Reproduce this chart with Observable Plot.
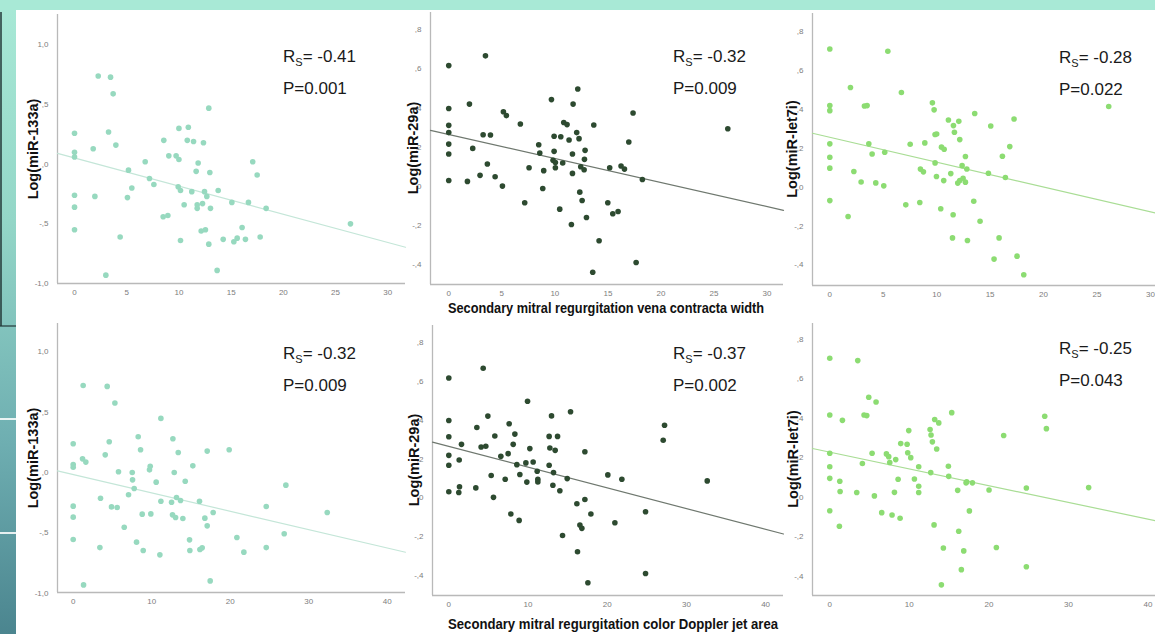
<!DOCTYPE html>
<html>
<head>
<meta charset="utf-8">
<script src="https://cdn.jsdelivr.net/npm/d3@7"></script>
<script src="https://cdn.jsdelivr.net/npm/@observablehq/plot@0.6"></script>
<style>
html,body{margin:0;padding:0;background:#fff;}
#wrap{position:relative;width:1155px;height:634px;overflow:hidden;
  background:linear-gradient(180deg,#a8e9d6 0%,#93d6c7 35%,#6eaeb1 70%,#4b858f 100%);
  font-family:"Liberation Sans",Arial,sans-serif;}
#topband{position:absolute;left:0;top:0;width:1155px;height:10px;background:#a8e9d6;}
#paper{position:absolute;left:16px;top:10px;width:1139px;height:624px;background:#fff;}
.deco{position:absolute;}
.chart{position:absolute;overflow:visible;max-width:none;}
.ylab{position:absolute;font-weight:bold;font-size:14.5px;color:#111;white-space:nowrap;line-height:6px;background:#fff;
  transform:translate(-50%,-50%) rotate(-90deg);}
.xlab{position:absolute;font-weight:bold;font-size:14px;color:#111;white-space:nowrap;line-height:14px;transform-origin:0 0;}
.stat{position:absolute;font-size:17px;color:#1a1a1a;white-space:nowrap;line-height:17px;}
.stat .sub{font-size:11px;position:relative;top:4px;}
</style>
</head>
<body>
<div id="wrap">
  <div id="topband"></div>
  <div id="paper"></div>
</div>
<script>
// ---------------- data ----------------
// Vena contracta width (top row)
const vc133X = [2.27,3.45,3.70,0,0,0,1.79,3.26,3.96,0,0,0,1.95,3.0,4.37,5.17,5.49,5.07,6.77,7.18,7.6,8.55,9.03,9.73,10.0,10.0,10.9,10.8,11.4,12.35,12.86,11.84,11.65,12.96,9.93,10.15,11.23,12.45,12.67,13.76,8.49,8.94,10.5,11.75,11.75,12.26,13.02,10.15,12.13,12.54,12.86,13.66,14.24,15.07,15.26,15.58,16.05,16.37,16.66,17.07,17.49,17.78,18.35,26.43];
const vc133Y = [0.74,0.73,0.59,0.26,0.10,0.06,0.13,0.27,0.16,-0.26,-0.36,-0.55,-0.27,-0.93,-0.61,-0.05,-0.20,-0.28,0.02,-0.12,-0.17,0.20,0.07,0.07,0.04,0.30,0.31,0.20,0.19,0.18,0.47,0.01,-0.06,-0.07,-0.19,-0.22,-0.23,-0.23,-0.27,-0.22,-0.44,-0.43,-0.34,-0.34,-0.37,-0.33,-0.37,-0.64,-0.56,-0.55,-0.67,-0.89,-0.63,-0.32,-0.65,-0.62,-0.53,-0.63,-0.32,0.02,-0.09,-0.61,-0.37,-0.50];

const vc29X = [0,3.46,0,0,0,0,0,0,1.76,1.95,2.26,2.95,3.24,3.93,3.64,4.37,5.15,5.43,5.06,6.75,7.16,7.57,8.48,8.58,8.95,8.86,9.68,9.93,9.93,9.83,10.05,10.05,10.56,10.74,10.84,11.15,11.34,11.72,11.66,11.66,10.46,11.56,12.16,12.06,12.28,12.44,12.35,12.57,12.79,12.85,12.76,12.98,13.67,14.17,13.57,14.99,15.17,15.46,15.96,16.24,16.56,16.97,17.37,17.66,18.25,26.3];
const vc29Y = [0.617,0.667,0.397,0.311,0.274,0.215,0.164,0.029,0.024,0.42,0.193,0.055,0.263,0.262,0.113,0.048,0.381,0.361,0.0,0.318,-0.085,0.094,0.212,0.169,0.079,-0.012,0.443,0.255,0.178,0.132,0.121,0.094,0.253,0.118,0.326,0.315,0.236,0.42,0.164,0.065,-0.118,-0.197,0.497,0.274,0.243,0.099,-0.031,-0.074,0.137,0.183,0.084,-0.161,0.313,-0.28,-0.441,-0.085,0.094,-0.142,-0.13,0.103,0.087,0.226,0.374,-0.391,0.034,0.294];

const vcLetX = [0,5.43,0,0,0,0,0,0,1.93,1.71,2.25,2.93,3.24,3.49,3.65,3.96,4.3,5.05,5.14,6.7,7.11,7.52,8.42,8.48,8.76,8.89,9.6,9.76,9.85,10.0,9.85,9.98,10.38,10.45,10.7,10.66,11.1,11.32,11.57,11.66,11.54,11.48,12.07,12.16,11.97,12.16,12.38,12.47,12.69,12.69,12.82,12.88,13.56,13.47,14.06,14.84,15.06,15.37,15.84,16.15,16.43,16.84,17.24,17.52,18.15,26.1];
const vcLetY = [0.711,0.70,0.42,0.394,0.223,0.154,0.098,-0.069,0.513,-0.151,0.081,0.027,0.418,0.42,0.223,0.171,0.022,0.007,0.18,0.487,-0.091,0.221,-0.079,0.093,0.079,0.228,0.434,0.398,0.271,0.274,0.125,0.055,-0.111,0.206,0.195,0.034,0.346,0.07,0.317,0.283,-0.142,-0.261,0.339,0.245,0.021,0.034,0.111,0.046,0.026,0.158,0.094,-0.274,0.379,-0.072,-0.175,0.072,0.315,-0.37,-0.261,0.159,0.05,0.209,0.351,-0.355,-0.451,0.415];

// Colour Doppler jet area (bottom row)
const jet133X = [1.27,4.33,5.31,0,0,0,1.19,1.61,4.08,4.59,0,0,0,1.32,3.4,3.48,4.88,5.6,5.77,6.5,7.05,7.52,7.56,7.77,8.07,8.28,8.58,8.79,8.92,9.72,9.81,9.89,10.57,11.04,11.17,11.17,12.53,12.7,12.65,12.87,13.04,13.16,13.38,13.67,13.97,14.27,14.82,14.86,15.24,16.09,16.14,16.43,16.77,17.07,17.07,17.45,17.83,19.87,20.85,21.74,24.59,24.59,26.88,27.09,32.36];
const jet133Y = [0.721,0.713,0.575,0.238,0.066,0.044,0.113,0.086,0.146,0.254,-0.279,-0.37,-0.555,-0.931,-0.622,-0.213,-0.285,-0.29,0.006,-0.453,-0.185,0.0,-0.061,-0.133,-0.577,0.296,0.188,-0.345,-0.646,0.022,0.052,-0.343,-0.08,-0.682,0.448,-0.238,-0.246,0.279,-0.351,0.0,-0.373,-0.207,0.166,-0.232,-0.381,-0.072,-0.558,-0.646,0.055,-0.238,-0.638,-0.624,-0.378,0.177,-0.442,-0.898,-0.331,0.188,-0.539,-0.66,-0.282,-0.622,-0.508,-0.105,-0.331];

const jet29X = [0,4.34,0,0,0,0,0,1.31,1.35,1.26,1.6,3.41,3.54,4.08,4.67,4.93,5.35,5.64,5.81,6.57,7.12,7.49,7.62,7.83,8.13,8.34,8.59,8.88,8.97,9.73,9.85,9.94,10.23,10.65,11.16,11.24,11.24,12.67,12.67,12.76,12.97,13.14,13.22,13.43,13.73,14.02,14.36,14.95,15.37,16.17,16.25,16.55,16.8,17.18,17.18,17.56,17.94,20.08,20.97,21.85,24.84,24.84,27.07,27.24,32.63];
const jet29Y = [0.619,0.669,0.399,0.315,0.219,0.168,0.031,0.195,0.057,0.027,0.276,0.051,0.363,0.262,0.266,0.422,0.115,0.002,0.319,0.214,0.096,0.228,0.382,-0.084,0.276,0.329,0.171,-0.117,0.12,0.18,0.081,0.499,0.254,0.185,0.137,0.096,0.082,0.168,0.317,0.257,0.423,0.065,0.13,0.245,0.317,0.036,-0.195,0.099,0.444,-0.031,-0.279,-0.141,-0.158,0.238,-0.009,-0.439,-0.084,0.118,-0.129,0.096,-0.072,-0.391,0.297,0.375,0.087];

const jetLetX = [0,3.52,0,0,0,0,0,1.21,1.26,1.3,1.59,3.39,4.1,4.31,4.65,4.9,5.32,5.61,5.82,6.53,7.12,7.41,7.54,7.83,8.13,8.29,8.59,8.84,8.92,9.72,9.8,9.93,10.18,10.64,11.18,11.18,11.18,12.61,12.73,12.9,12.69,13.19,13.11,13.44,13.7,14.03,14.28,14.91,14.95,15.33,16.08,16.21,16.54,16.84,17.13,17.21,17.55,17.93,20.02,20.94,21.86,24.71,24.71,27.02,27.23,32.54];
const jetLetY = [0.705,0.693,0.417,0.223,0.155,0.096,-0.068,-0.147,0.081,0.029,0.39,0.024,0.171,0.417,0.414,0.507,0.223,0.007,0.483,-0.078,0.22,0.206,0.176,-0.09,0.025,0.191,0.091,-0.106,0.272,0.269,0.226,0.338,0.201,0.093,0.155,0.056,0.024,0.343,0.316,0.281,0.125,0.394,-0.14,0.245,0.377,-0.444,-0.257,0.157,0.106,0.429,0.035,-0.172,-0.367,-0.272,0.073,0.078,-0.069,0.073,0.037,-0.255,0.313,0.047,-0.352,0.411,0.348,0.049];

// Statistics and fitted lines
const rsText = ["-0.41","-0.32","-0.28","-0.32","-0.37","-0.25"];
const pText  = ["0.001","0.009","0.022","0.009","0.002","0.043"];
const fitIntercept = [0.052,0.264,0.257,-0.017,0.265,0.229];
const fitSlope     = [-0.0236,-0.0123,-0.0128,-0.0152,-0.0107,-0.0085];

// Labels and ticks
const yLabels = ["Log(miR-133a)","Log(miR-29a)","Log(miR-let7i)"];
const xTitles = ["Secondary mitral regurgitation vena contracta width","Secondary mitral regurgitation color Doppler jet area"];
const xTicksVC  = [0,5,10,15,20,25,30];
const xTicksJet = [0,10,20,30,40];
const yTicks133 = [-1,-0.5,0,0.5,1];
const yTicksSmall = [-0.4,-0.2,0,0.2,0.4,0.6,0.8];

// ---------------- layout & style ----------------
const dotColors  = ["#97d9bf","#2d4a30","#8cdc72"];
const lineColors = ["#c4e6d8","#6f786f","#a9dd95"];
const layout = [
  {left:57,  right:405,  top:14,  bottom:283, xd:[-1.63,31.7],  yd:[-1.0,1.255],  labX:33,  statX:283,  statY:62},
  {left:430, right:783,  top:12,  bottom:284, xd:[-1.72,31.55], yd:[-0.504,0.889], labX:413, statX:673,  statY:62},
  {left:812, right:1167, top:13,  bottom:285, xd:[-1.62,31.6],  yd:[-0.506,0.894], labX:792, statX:1059, statY:63},
  {left:57,  right:405,  top:323, bottom:592, xd:[-2.0,42.33],  yd:[-0.994,1.234], labX:33,  statX:283,  statY:359},
  {left:432, right:783,  top:325, bottom:595, xd:[-2.06,42.26], yd:[-0.505,0.89],  labX:414, statX:673,  statY:359},
  {left:812, right:1165, top:323, bottom:595, xd:[-2.17,42.2],  yd:[-0.498,0.881], labX:793, statX:1059, statY:354}
];
const titleLayout = [
  {left:448, baseline:313, width:316},
  {left:448, baseline:629, width:330}
];

const wrap = document.getElementById("wrap");

// left strip decorations
[
  {l:0,t:12,w:1.5,h:314,bg:"rgba(35,55,55,0.75)"},
  {l:0,t:325,w:16,h:1.5,bg:"rgba(35,55,55,0.6)"},
  {l:0,t:418,w:16,h:2,bg:"rgba(255,255,255,0.85)"},
  {l:0,t:532,w:16,h:2,bg:"rgba(255,255,255,0.85)"}
].forEach(d => {
  const e = document.createElement("div");
  e.className = "deco";
  Object.assign(e.style,{left:d.l+"px",top:d.t+"px",width:d.w+"px",height:d.h+"px",background:d.bg});
  wrap.appendChild(e);
});

const series = [[vc133X,vc133Y],[vc29X,vc29Y],[vcLetX,vcLetY],[jet133X,jet133Y],[jet29X,jet29Y],[jetLetX,jetLetY]];
const spss = d => d.toFixed(1).replace(/^(-?)0\./,"$1,").replace(".",",");

layout.forEach((L,i) => {
  const col = i % 3, row = Math.floor(i / 3);
  const [xs, ys] = series[i];
  const pts = xs.map((x,k) => ({x, y: ys[k]}));
  const fit = L.xd.map(x => ({x, y: fitIntercept[i] + fitSlope[i] * x}));
  const mL = 40, mR = 4, mT = 4, mB = 22;
  const chart = Plot.plot({
    width: L.right - L.left + mL + mR,
    height: L.bottom - L.top + mT + mB,
    marginLeft: mL, marginRight: mR, marginTop: mT, marginBottom: mB,
    style: {background:"transparent", fontFamily:"Liberation Sans, Arial, sans-serif", fontSize:"8px", color:"#7d7d7d", overflow:"visible"},
    x: {domain: L.xd, ticks: row === 0 ? xTicksVC : xTicksJet, tickSize: 0, tickPadding: 6, label: null, tickFormat: d => String(d)},
    y: {domain: L.yd, ticks: col === 0 ? yTicks133 : yTicksSmall, tickSize: 0, tickPadding: 9, label: null, tickFormat: spss},
    marks: [
      Plot.ruleY([L.yd[0]], {stroke:"#b9b9b9", strokeWidth:1.3}),
      Plot.ruleX([L.xd[0]], {stroke:"#b9b9b9", strokeWidth:1.3}),
      Plot.line(fit, {x:"x", y:"y", stroke: lineColors[col], strokeWidth: 1.2}),
      Plot.dot(pts, {x:"x", y:"y", r: 2.8, fill: dotColors[col]})
    ]
  });
  chart.classList.add("chart");
  chart.style.left = (L.left - mL) + "px";
  chart.style.top = (L.top - mT) + "px";
  wrap.appendChild(chart);

  const yl = document.createElement("div");
  yl.className = "ylab";
  yl.textContent = yLabels[col];
  yl.style.left = L.labX + "px";
  yl.style.top = ((L.top + L.bottom) / 2) + "px";
  wrap.appendChild(yl);

  const r = document.createElement("div");
  r.className = "stat";
  r.innerHTML = 'R<span class="sub">S</span>= ' + rsText[i];
  r.style.left = L.statX + "px";
  r.style.top = (L.statY - 14.4) + "px";
  wrap.appendChild(r);

  const p = document.createElement("div");
  p.className = "stat";
  p.textContent = "P=" + pText[i];
  p.style.left = L.statX + "px";
  p.style.top = (L.statY + 32 - 14.4) + "px";
  wrap.appendChild(p);
});

xTitles.forEach((t,i) => {
  const T = titleLayout[i];
  const e = document.createElement("div");
  e.className = "xlab";
  e.textContent = t;
  e.style.left = T.left + "px";
  e.style.top = (T.baseline - 11.85) + "px";
  wrap.appendChild(e);
  const w = e.getBoundingClientRect().width;
  e.style.transform = "scaleX(" + (T.width / w) + ")";
});
</script>
</body>
</html>
